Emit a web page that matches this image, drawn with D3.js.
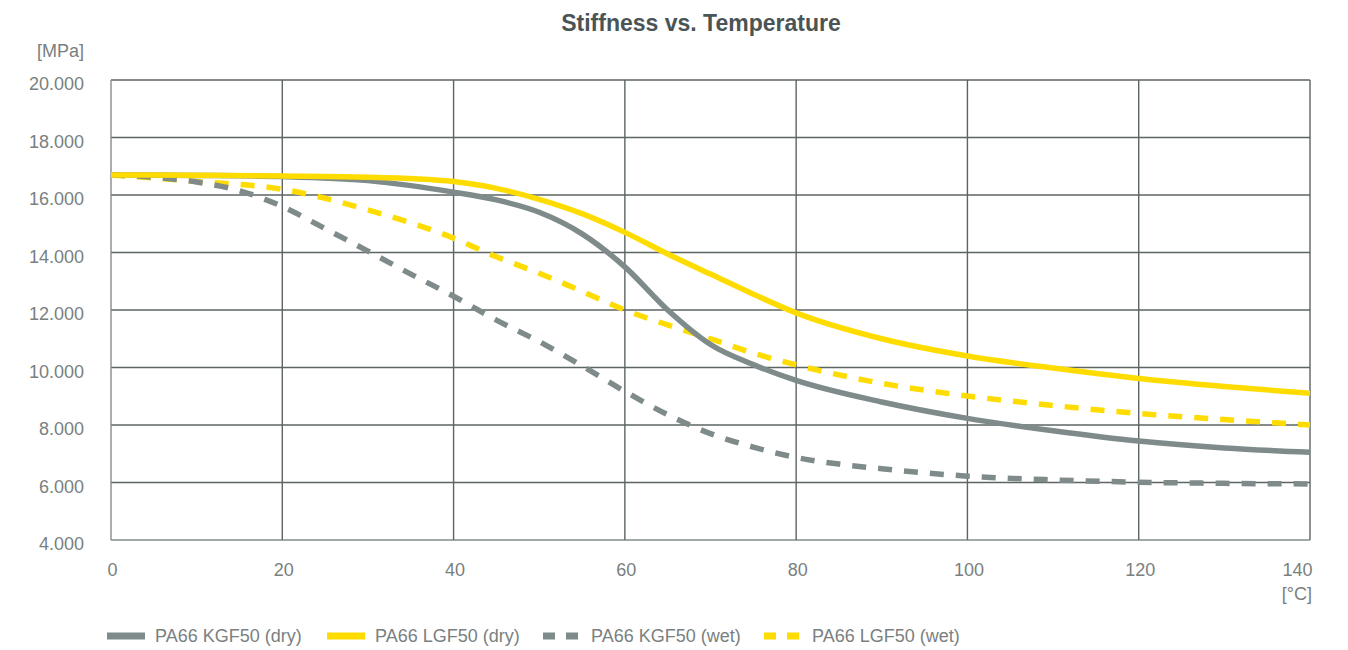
<!DOCTYPE html>
<html>
<head>
<meta charset="utf-8">
<script src="https://cdn.jsdelivr.net/npm/d3@7/dist/d3.min.js"></script>
<style>
  html, body { margin: 0; padding: 0; background: #fff; }
  svg { display: block; font-family: "Liberation Sans", Arial, sans-serif; }
</style>
</head>
<body>
<svg id="chart" width="1348" height="650"></svg>
<script>
// ---- data ----
const titleText = "Stiffness vs. Temperature";
const yUnit = "[MPa]";
const xUnit = "[°C]";
const xTicks = [0, 20, 40, 60, 80, 100, 120, 140];
const yTicks = [4000, 6000, 8000, 10000, 12000, 14000, 16000, 18000, 20000];

const seriesNames = ["PA66 KGF50 (dry)", "PA66 LGF50 (dry)", "PA66 KGF50 (wet)", "PA66 LGF50 (wet)"];

const tempKGFdry = [0, 10, 20, 30, 40, 45, 50, 55, 60, 65, 70, 75, 80, 90, 100, 110, 120, 130, 140];
const kgfDry     = [16700, 16680, 16640, 16500, 16100, 15830, 15400, 14650, 13500, 12000, 10800, 10100, 9550, 8800, 8230, 7800, 7440, 7200, 7050];

const tempLGFdry = [0, 10, 20, 30, 40, 45, 50, 55, 60, 65, 70, 75, 80, 90, 100, 110, 120, 130, 140];
const lgfDry     = [16700, 16690, 16660, 16620, 16470, 16230, 15850, 15350, 14700, 13950, 13250, 12550, 11900, 11000, 10400, 9980, 9620, 9340, 9100];

const tempKGFwet = [0, 5, 10, 15, 20, 25, 30, 35, 40, 45, 50, 55, 60, 65, 70, 75, 80, 85, 90, 100, 110, 120, 130, 140];
const kgfWet     = [16700, 16620, 16450, 16150, 15600, 14830, 14050, 13250, 12480, 11650, 10900, 10060, 9170, 8360, 7700, 7230, 6870, 6640, 6480, 6220, 6090, 6010, 5970, 5950];

const tempLGFwet = [0, 10, 20, 30, 40, 45, 50, 55, 60, 65, 70, 75, 80, 90, 100, 110, 120, 130, 140];
const lgfWet     = [16700, 16470, 16200, 15480, 14500, 13850, 13280, 12650, 12000, 11480, 11000, 10500, 10090, 9450, 9010, 8680, 8400, 8190, 8000];

(function () {
// ---- styling / layout ----
const GRAY = "#7f8b8b";
const YELLOW = "#ffdc00";
const GRID = "#5c6464";
const TEXT = "#7a7f7f";
const FS = 18;

const series = [
  { name: seriesNames[0], t: tempKGFdry, v: kgfDry, color: GRAY,   dash: null },
  { name: seriesNames[1], t: tempLGFdry, v: lgfDry, color: YELLOW, dash: null },
  { name: seriesNames[2], t: tempKGFwet, v: kgfWet, color: GRAY,   dash: "14,12" },
  { name: seriesNames[3], t: tempLGFwet, v: lgfWet, color: YELLOW, dash: "14,12" }
];

const svg = d3.select("#chart");
const pL = 111, pR = 1310, pT = 80, pB = 540;

const x = d3.scaleLinear().domain([0, 140]).range([pL, pR]);
const y = d3.scaleLinear().domain([4000, 20000]).range([pB, pT]);

const locale = d3.formatLocale({ decimal: ",", thousands: ".", grouping: [3], currency: ["", "€"] });
const fmt = locale.format(",d");

// title
svg.append("text")
  .attr("x", 701).attr("y", 31)
  .attr("text-anchor", "middle")
  .attr("font-size", 23).attr("font-weight", "bold")
  .attr("fill", "#4a5454")
  .text(titleText);

// gridlines
const grid = svg.append("g");
grid.selectAll("line.h").data(yTicks).join("line")
  .attr("x1", pL).attr("x2", pR)
  .attr("y1", d => y(d)).attr("y2", d => y(d))
  .attr("stroke", d => d === 4000 ? "#858c8c" : GRID)
  .attr("stroke-width", 1.4);
grid.selectAll("line.v").data(xTicks).join("line")
  .attr("y1", pT).attr("y2", pB)
  .attr("x1", d => x(d)).attr("x2", d => x(d))
  .attr("stroke", d => d === 0 ? "#858c8c" : GRID)
  .attr("stroke-width", 1.4);

// y axis labels
const yAxis = svg.append("g")
  .attr("transform", `translate(${pL},0)`)
  .call(d3.axisLeft(y).tickValues(yTicks).tickFormat(fmt).tickSize(0).tickPadding(27));
yAxis.select(".domain").remove();
yAxis.selectAll("text")
  .attr("font-size", FS).attr("fill", TEXT)
  .attr("font-family", "Liberation Sans, Arial, sans-serif")
  .attr("dy", "0.72em").attr("y", -3);

svg.append("text")
  .attr("x", 84).attr("y", 57)
  .attr("text-anchor", "end")
  .attr("font-size", FS).attr("fill", TEXT)
  .text(yUnit);

// x axis labels
const xAxis = svg.append("g")
  .attr("transform", `translate(0,${pB})`)
  .call(d3.axisBottom(x).tickValues(xTicks).tickFormat(d3.format("d")).tickSize(0).tickPadding(23));
xAxis.select(".domain").remove();
xAxis.selectAll("text")
  .attr("font-size", FS).attr("fill", TEXT)
  .attr("font-family", "Liberation Sans, Arial, sans-serif")
  .attr("text-anchor", d => d === 140 ? "end" : "middle")
  .attr("x", d => d === 140 ? 2 : 1);

svg.append("text")
  .attr("x", 1312).attr("y", 600)
  .attr("text-anchor", "end")
  .attr("font-size", FS).attr("fill", TEXT)
  .text(xUnit);

// curves
const line = d3.line()
  .x(d => x(d[0])).y(d => y(d[1]))
  .curve(d3.curveMonotoneX);

svg.append("g").selectAll("path")
  .data([series[3], series[2], series[0], series[1]])
  .join("path")
  .attr("d", s => line(s.t.map((t, i) => [t, s.v[i]])))
  .attr("fill", "none")
  .attr("stroke", s => s.color)
  .attr("stroke-width", 5.5)
  .attr("stroke-dasharray", s => s.dash);

// legend
const legendX = [107, 327, 543, 764];
const lg = svg.append("g");
series.forEach((s, i) => {
  const gx = legendX[i];
  lg.append("line")
    .attr("x1", gx).attr("x2", gx + 38)
    .attr("y1", 636).attr("y2", 636)
    .attr("stroke", s.color).attr("stroke-width", 7)
    .attr("stroke-dasharray", s.dash ? "12,11" : null);
  lg.append("text")
    .attr("x", gx + 48).attr("y", 642)
    .attr("font-size", FS).attr("fill", TEXT)
    .text(s.name);
});
})();
</script>
</body>
</html>
